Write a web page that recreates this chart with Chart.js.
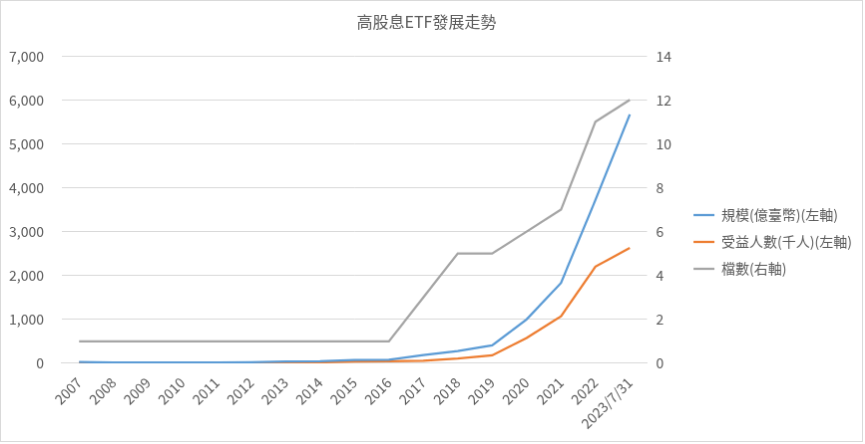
<!DOCTYPE html>
<html>
<head>
<meta charset="utf-8">
<script src="https://cdn.jsdelivr.net/npm/chart.js@4/dist/chart.umd.min.js"></script>
<style>
  body { margin: 0; background: #fff; }
  #chart01 { border: 1px solid #d9d9d9; display: block; }
</style>
</head>
<body>
<canvas id="chart01" width="863" height="442"></canvas>
<script>
const categories = ['2007', '2008', '2009', '2010', '2011', '2012', '2013', '2014', '2015', '2016',
    '2017', '2018', '2019', '2020', '2021', '2022', '2023/7/31']
// 規模 (億臺幣), left axis
const scaleValues = [30, 15, 15, 15, 15, 25, 40, 45, 75, 80, 190, 280, 410, 1000, 1830, 3720, 5670]
// 受益人數 (千人), left axis
const holderValues = [20, 10, 10, 10, 10, 15, 20, 20, 40, 45, 60, 110, 180, 577, 1070, 2200, 2630]
// 檔數, right axis
const fundCount = [1, 1, 1, 1, 1, 1, 1, 1, 1, 1, 3, 5, 5, 6, 7, 11, 12]

const font = "'Noto Sans CJK TC', 'Noto Sans', sans-serif"
const textColor = '#595959'

const ctx = document.getElementById('chart01').getContext('2d')

const myChart = new Chart(ctx, {
    type: 'line',
    data: {
        labels: categories,
        datasets: [{
            label: '規模(億臺幣)(左軸)',
            data: scaleValues,
            borderColor: '#5B9BD5',
            backgroundColor: '#5B9BD5',
            borderWidth: 2.25,
            pointRadius: 0,
            yAxisID: 'y'
        }, {
            label: '受益人數(千人)(左軸)',
            data: holderValues,
            borderColor: '#ED7D31',
            backgroundColor: '#ED7D31',
            borderWidth: 2.25,
            pointRadius: 0,
            yAxisID: 'y'
        }, {
            label: '檔數(右軸)',
            data: fundCount,
            borderColor: '#A5A5A5',
            backgroundColor: '#A5A5A5',
            borderWidth: 2.25,
            pointRadius: 0,
            yAxisID: 'y1'
        }]
    },
    options: {
        responsive: false,
        animation: false,
        layout: {
            padding: { left: -10, right: 0, top: 6, bottom: 6 }
        },
        plugins: {
            title: {
                display: true,
                text: '高股息ETF發展走勢',
                color: textColor,
                font: { family: font, size: 16, weight: 'normal' },
                padding: { top: 5, bottom: 25 }
            },
            legend: {
                position: 'right',
                maxWidth: 220,
                title: {
                    display: true,
                    text: ' ',
                    font: { size: 10 },
                    padding: { top: 0, bottom: 30 }
                },
                labels: {
                    usePointStyle: true,
                    pointStyle: 'line',
                    pointStyleWidth: 21,
                    color: textColor,
                    font: { family: font, size: 14 },
                    padding: 13
                }
            },
            tooltip: { enabled: false }
        },
        scales: {
            x: {
                offset: true,
                grid: { display: false },
                border: { display: true, color: '#d9d9d9' },
                ticks: {
                    color: textColor,
                    font: { family: font, size: 14 },
                    maxRotation: 45,
                    minRotation: 45,
                    autoSkip: false
                }
            },
            y: {
                position: 'left',
                min: 0,
                max: 7000,
                grid: { color: '#d9d9d9', drawTicks: false },
                border: { display: false },
                ticks: {
                    stepSize: 1000,
                    color: textColor,
                    padding: 18,
                    font: { family: font, size: 14 },
                    callback: v => v.toLocaleString('en-US')
                }
            },
            y1: {
                position: 'right',
                min: 0,
                max: 14,
                grid: { display: false, drawTicks: false },
                border: { display: false },
                ticks: {
                    stepSize: 2,
                    color: textColor,
                    padding: 9,
                    font: { family: font, size: 14 }
                }
            }
        }
    }
});
</script>
</body>
</html>
